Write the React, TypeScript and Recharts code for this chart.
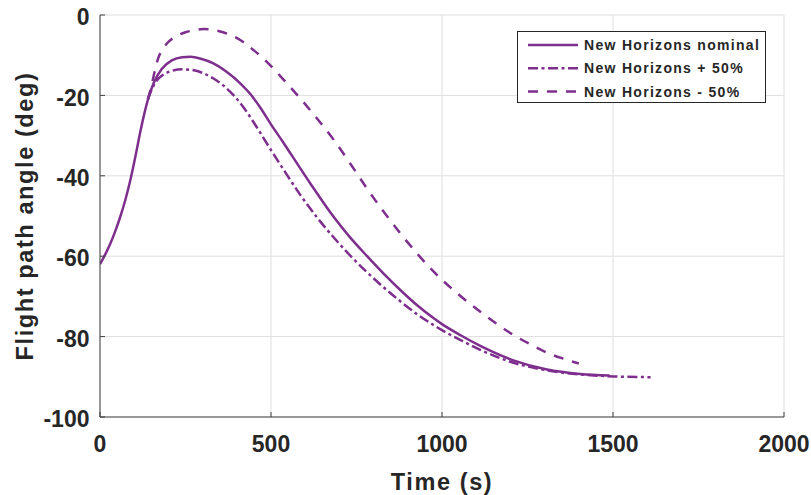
import { LineChart, Line, XAxis, YAxis, CartesianGrid, Legend, Label } from "recharts";

const PURPLE = "#7E2F8E";
const INK = "#262626";
const FRAME = "#404040";
const FONT = "'Liberation Sans', Arial, Helvetica, sans-serif";

const X_TICKS = [0, 500, 1000, 1500, 2000];
const Y_TICKS = [-100, -80, -60, -40, -20, 0];

// nominal entry
const NOMINAL_T = [0, 15, 30, 45, 60, 75, 90, 105, 118, 130, 142, 157, 181, 210, 240, 265, 295, 330, 371, 410, 439, 470, 500, 535, 566, 615, 683, 730, 781, 830, 878, 930, 975, 1000, 1053, 1112, 1209, 1307, 1404, 1490];
const NOMINAL_ANGLE = [-62.0, -59.6, -56.9, -53.7, -50.0, -45.7, -40.6, -34.6, -29.0, -24.4, -20.5, -16.9, -13.4, -11.3, -10.5, -10.4, -10.9, -12.0, -14.2, -17.0, -19.6, -23.2, -27.2, -31.6, -35.6, -41.9, -50.2, -55.2, -60.0, -64.4, -68.4, -72.4, -75.4, -76.9, -79.6, -82.3, -85.9, -88.2, -89.3, -89.7];

// +50 %
const PLUS_T = [140, 150, 165, 181, 210, 240, 270, 300, 332, 360, 391, 420, 450, 500, 540, 586, 635, 683, 730, 781, 830, 878, 930, 975, 1000, 1053, 1112, 1209, 1307, 1404, 1502, 1610];
const PLUS_ANGLE = [-21.0, -18.8, -16.4, -15.1, -13.9, -13.5, -13.7, -14.4, -15.8, -17.5, -20.0, -23.0, -26.8, -33.6, -38.9, -44.8, -50.4, -55.3, -59.7, -64.0, -67.8, -71.2, -74.6, -77.1, -78.4, -80.8, -83.3, -86.5, -88.4, -89.4, -89.9, -90.1];

// -50 %
const MINUS_T = [140, 150, 160, 170, 185, 200, 225, 250, 275, 303, 330, 360, 390, 420, 450, 480, 510, 540, 586, 635, 683, 732, 781, 830, 878, 930, 975, 1044, 1112, 1160, 1209, 1260, 1307, 1355, 1400];
const MINUS_ANGLE = [-21.0, -17.8, -14.0, -10.8, -8.3, -6.7, -5.2, -4.3, -3.8, -3.5, -3.7, -4.3, -5.3, -6.8, -8.8, -11.0, -13.6, -16.4, -20.8, -25.8, -31.0, -37.0, -43.2, -49.0, -54.3, -59.6, -63.8, -69.2, -73.8, -76.8, -79.6, -82.0, -84.0, -85.5, -86.7];

const toPoints = (t: number[], a: number[]) => t.map((v, i) => ({ t: v, angle: a[i] }));

const SERIES = [
  { name: "New Horizons nominal", data: toPoints(NOMINAL_T, NOMINAL_ANGLE), dash: undefined },
  { name: "New Horizons + 50%", data: toPoints(PLUS_T, PLUS_ANGLE), dash: "10 3.5 3 3.5" },
  { name: "New Horizons - 50%", data: toPoints(MINUS_T, MINUS_ANGLE), dash: "10 9" },
];

const LegendBox = () => (
  <svg width={250} height={73} style={{ display: "block" }}>
    <rect x={0.5} y={0.5} width={248} height={71} fill="#fff" stroke={INK} />
    {SERIES.map((s, i) => {
      const cy = 14 + i * 23.3;
      return (
        <g key={s.name}>
          <line x1={11} x2={61} y1={cy} y2={cy} stroke={PURPLE} strokeWidth={2.5} strokeDasharray={s.dash} />
          <text x={67} y={cy + 5} fontSize={14} fontWeight="bold" letterSpacing={1.3} fill={INK} fontFamily={FONT}>
            {s.name}
          </text>
        </g>
      );
    })}
  </svg>
);

const YLabel = ({ viewBox }: any) => {
  const cx = 33;
  const cy = viewBox.y + viewBox.height / 2;
  return (
    <text
      x={cx}
      y={cy}
      transform={`rotate(-90, ${cx}, ${cy})`}
      textAnchor="middle"
      fontSize={23.5}
      fontWeight="bold"
      letterSpacing={1.6}
      fill={INK}
      fontFamily={FONT}
    >
      Flight path angle (deg)
    </text>
  );
};

const tickStyle = { fontSize: 23, fontWeight: "bold", fill: INK, fontFamily: FONT };

export default function App() {
  return (
    <div style={{ position: "absolute", left: 0, top: 0, background: "#fff" }}>
      <LineChart width={811} height={495} margin={{ top: 15, right: 27, bottom: 0, left: 0 }}>
        <CartesianGrid stroke="#dedede" strokeWidth={1} />
        <XAxis
          dataKey="t"
          type="number"
          domain={[0, 2000]}
          ticks={X_TICKS}
          height={78}
          tickSize={-5}
          tickMargin={24}
          stroke={FRAME}
          tick={tickStyle}
          allowDataOverflow
        >
          <Label
            value="Time (s)"
            position="insideBottom"
            offset={5}
            style={{ fontSize: 23.5, fontWeight: "bold", fill: INK, fontFamily: FONT, letterSpacing: 1.6 }}
          />
        </XAxis>
        <XAxis
          xAxisId="top"
          orientation="top"
          type="number"
          domain={[0, 2000]}
          ticks={X_TICKS}
          height={0}
          tickSize={-5}
          tick={false}
          stroke={FRAME}
          allowDataOverflow
        />
        <YAxis
          type="number"
          domain={[-100, 0]}
          ticks={Y_TICKS}
          width={100}
          tickSize={-5}
          tickMargin={15.5}
          stroke={FRAME}
          tick={{ ...tickStyle, dy: 2 }}
          allowDataOverflow
        >
          <Label content={<YLabel />} />
        </YAxis>
        <YAxis
          yAxisId="right"
          orientation="right"
          type="number"
          domain={[-100, 0]}
          ticks={Y_TICKS}
          width={0}
          tickSize={-5}
          tick={false}
          stroke={FRAME}
          allowDataOverflow
        />
        {SERIES.map((s) => (
          <Line
            key={s.name}
            data={s.data}
            dataKey="angle"
            name={s.name}
            type="monotone"
            stroke={PURPLE}
            strokeWidth={2.5}
            strokeDasharray={s.dash}
            dot={false}
            activeDot={false}
            isAnimationActive={false}
          />
        ))}
        <Legend
          content={<LegendBox />}
          layout="horizontal"
          verticalAlign="middle"
          align="center"
          wrapperStyle={{ position: "absolute", left: 517, top: 31, width: 250, height: 73 }}
        />
      </LineChart>
    </div>
  );
}
